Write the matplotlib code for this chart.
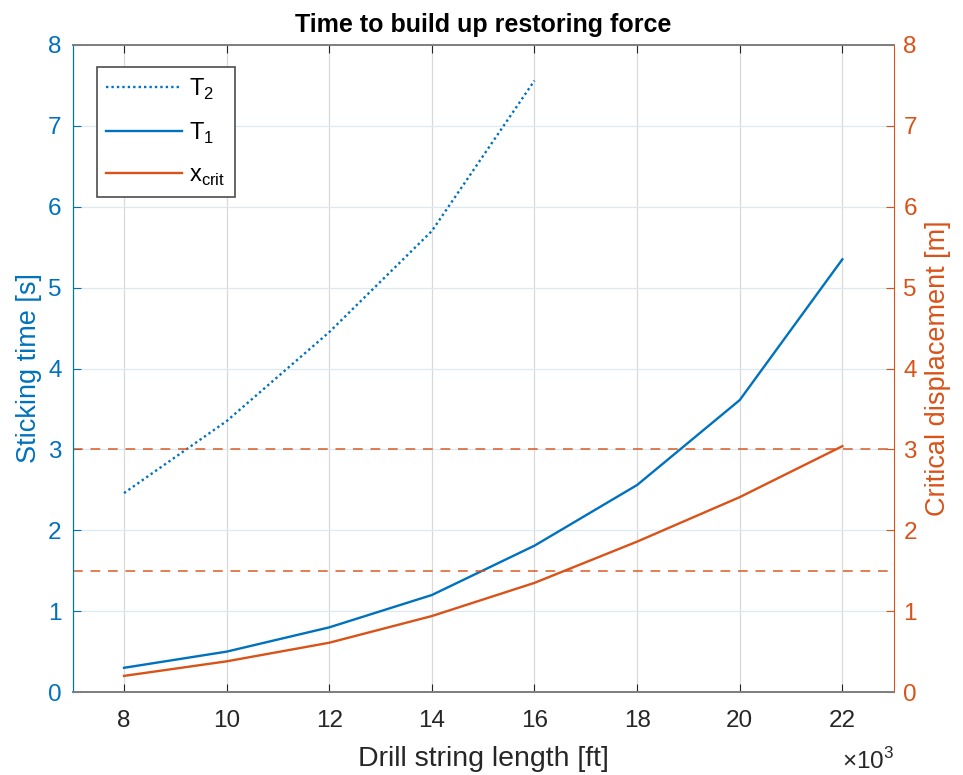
import matplotlib.pyplot as plt
from matplotlib.ticker import FuncFormatter

plt.rcParams['font.family'] = ['Liberation Sans', 'DejaVu Sans']
plt.rcParams['mathtext.fontset'] = 'custom'
plt.rcParams['mathtext.rm'] = 'Liberation Sans'

# drill string length [ft]
length_t2 = [8000, 10000, 12000, 14000, 16000]
length = [8000, 10000, 12000, 14000, 16000, 18000, 20000, 22000]

t2 = [2.46, 3.35, 4.45, 5.70, 7.56]
t1 = [0.30, 0.50, 0.80, 1.20, 1.81, 2.56, 3.61, 5.35]
x_crit = [0.20, 0.38, 0.61, 0.94, 1.35, 1.86, 2.41, 3.04]
ref_levels = [3.0, 1.5]

blue = '#0072BD'
orange = '#D95319'
axis_gray = '#4d4d4d'

fig = plt.figure(figsize=(9.63, 7.75), dpi=100)
ax = fig.add_axes([0.0755, 0.107, 0.8525, 0.835])
ax2 = ax.twinx()

l2, = ax.plot(length_t2, t2, color=blue, lw=1.7, linestyle=(0, (1, 1.3)), label=r'T$_\mathregular{2}$')
l1, = ax.plot(length, t1, color=blue, lw=1.7, label=r'T$_\mathregular{1}$')
lc, = ax2.plot(length, x_crit, color=orange, lw=1.7, label=r'x$_\mathregular{crit}$')
for lvl in ref_levels:
    ax2.axhline(lvl, color=orange, lw=1.4, ls=(0, (5, 4)), alpha=0.75)

ax.set_xlim(7000, 23000)
ax.set_ylim(0, 8)
ax2.set_ylim(0, 8)
ax.set_xticks(range(8000, 22001, 2000))
ax.xaxis.set_major_formatter(FuncFormatter(lambda v, p: f'{v / 1000:g}'))
ax.set_yticks(range(0, 9))
ax2.set_yticks(range(0, 9))

# grid: vertical gray, horizontal light blue
for xv in range(8000, 22001, 2000):
    ax.axvline(xv, color='#d9d9d9', lw=0.9, zorder=0)
for yv in range(1, 8):
    ax.axhline(yv, color='#dce9f3', lw=0.9, zorder=0)

ax.tick_params(axis='x', direction='in', length=6, labelsize=17.5, colors='#262626', top=True, pad=13)
ax.tick_params(axis='y', direction='in', length=6, labelsize=17.5, colors=blue, pad=8)
ax2.tick_params(axis='y', direction='in', length=6, labelsize=17.5, colors=orange, pad=7)

for a in (ax, ax2):
    a.spines['top'].set_color('#808080')
    a.spines['bottom'].set_color('#808080')
    a.spines['top'].set_linewidth(1.4)
    a.spines['bottom'].set_linewidth(1.4)
ax.spines['left'].set_color(blue)
ax2.spines['left'].set_color(blue)
ax2.spines['right'].set_color(orange)
ax.spines['right'].set_visible(False)

ax.set_xlabel('Drill string length [ft]', fontsize=20.5, color='#262626', labelpad=10)
ax.set_ylabel('Sticking time [s]', fontsize=19.5, color=blue, labelpad=4)
ax2.set_ylabel('Critical displacement [m]', fontsize=19.5, color=orange, labelpad=6)
ax.set_title('Time to build up restoring force', fontsize=18, fontweight='bold', pad=9)

ax.text(1.0, -0.086, r'$\times$10$^\mathregular{3}$', transform=ax.transAxes,
        ha='right', va='top', fontsize=17.5, color='#262626')

leg = ax2.legend(handles=[l2, l1, lc], loc='upper left', bbox_to_anchor=(0.0296, 0.966),
                 borderaxespad=0, fontsize=17, frameon=True, fancybox=False, framealpha=1,
                 handlelength=3.2, labelspacing=0.8, borderpad=0.4, handletextpad=0.3)
leg.get_frame().set_edgecolor(axis_gray)
leg.get_frame().set_linewidth(1.2)

fig.savefig('out.png', dpi=100)
